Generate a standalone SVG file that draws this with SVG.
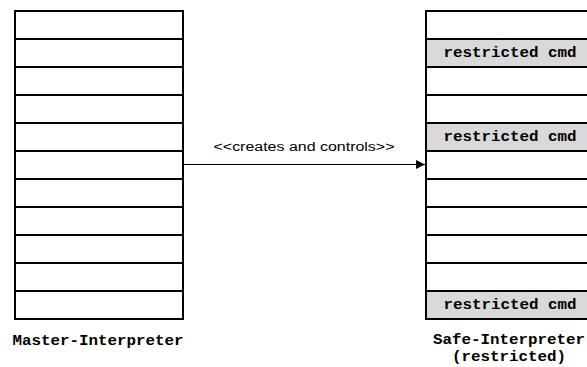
<svg xmlns="http://www.w3.org/2000/svg" width="587" height="367" viewBox="0 0 587 367">
<defs>
<style>
.box{fill:#fff;stroke:#000;stroke-width:2}
.sh{fill:#d9d9d9;stroke:none}
.row{stroke:#000;stroke-width:2}
.mono{font-family:"Liberation Mono","Courier New",monospace;font-weight:bold;font-size:14px;fill:#000;text-anchor:middle}
.lbl{font-family:"Liberation Sans",Arial,sans-serif;font-size:12.5px;fill:#000;text-anchor:middle}
.conn{stroke:#000;stroke-width:1;fill:none}
</style>
<marker id="arr" viewBox="0 0 10 10" refX="10" refY="5" markerWidth="13" markerHeight="9" markerUnits="userSpaceOnUse" orient="auto">
<path d="M0,0 L10,5 L0,10 Z" fill="#000"/>
</marker>
</defs>
<g id="master">
<rect class="box" x="15" y="11" width="168" height="308"/>
<path class="row" d="M15,39H183M15,67H183M15,95H183M15,123H183M15,151H183M15,179H183M15,207H183M15,235H183M15,263H183M15,291H183"/>
<text class="mono" x="98" y="345" textLength="171" lengthAdjust="spacingAndGlyphs">Master-Interpreter</text>
</g>
<g id="safe">
<rect class="box" x="426" y="11" width="168" height="308"/>
<rect class="sh" x="427" y="40" width="166" height="26"/>
<rect class="sh" x="427" y="124" width="166" height="26"/>
<rect class="sh" x="427" y="292" width="166" height="26"/>
<path class="row" d="M426,39H594M426,67H594M426,95H594M426,123H594M426,151H594M426,179H594M426,207H594M426,235H594M426,263H594M426,291H594"/>
<text class="mono" x="510" y="57" textLength="133" lengthAdjust="spacingAndGlyphs">restricted cmd</text>
<text class="mono" x="510" y="141" textLength="133" lengthAdjust="spacingAndGlyphs">restricted cmd</text>
<text class="mono" x="510" y="309" textLength="133" lengthAdjust="spacingAndGlyphs">restricted cmd</text>
<text class="mono" x="509" y="344" textLength="152" lengthAdjust="spacingAndGlyphs">Safe-Interpreter</text>
<text class="mono" x="509" y="361" textLength="114" lengthAdjust="spacingAndGlyphs">(restricted)</text>
</g>
<g id="connectors">
<line class="conn" x1="183" y1="164.5" x2="425" y2="164.5" marker-end="url(#arr)"/>
<text class="lbl" x="304" y="151" textLength="181" lengthAdjust="spacingAndGlyphs">&lt;&lt;creates and controls&gt;&gt;</text>
</g>
</svg>
